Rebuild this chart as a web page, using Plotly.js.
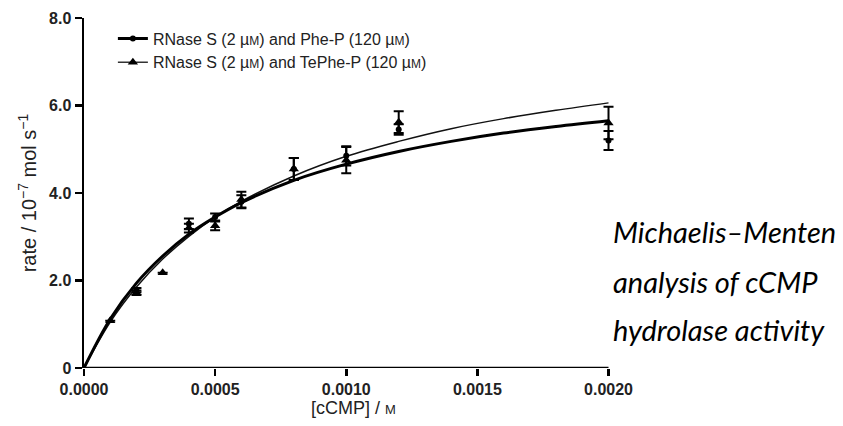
<!DOCTYPE html>
<html>
<head>
<meta charset="utf-8">
<script src="https://cdn.plot.ly/plotly-3.0.1.min.js"></script>
<style>html,body{margin:0;padding:0;background:#fff;}#chart{width:843px;height:426px;}</style>
</head>
<body>
<div id="chart"></div>
<script>
const phePX   = [0.0002, 0.0004, 0.0005, 0.0006, 0.0008, 0.0010, 0.0012, 0.0020];
const phePY   = [1.78, 3.30, 3.45, 3.80, 4.55, 4.85, 5.45, 5.20];
const phePErr = [0.05, 0.12, 0.08, 0.15, 0.25, 0.22, 0.12, 0.22];

const tePX   = [0.0001, 0.0002, 0.0003, 0.0004, 0.0005, 0.0006, 0.0008, 0.0010, 0.0012, 0.0020];
const tePY   = [1.08, 1.72, 2.18, 3.20, 3.25, 3.85, 4.55, 4.75, 5.62, 5.60];
const tePErr = [0, 0.05, 0, 0.10, 0.10, 0.18, 0.25, 0.30, 0.25, 0.37];

// Fitted Michaelis–Menten curves
const fitX    = [0, 0.0001, 0.0002, 0.0003, 0.0004, 0.0005, 0.0006, 0.0008, 0.0010, 0.0012, 0.0014, 0.0016, 0.0018, 0.0020];
const pheFitY = [0, 1.12, 1.94, 2.56, 3.06, 3.45, 3.78, 4.29, 4.66, 4.95, 5.18, 5.37, 5.52, 5.65];
const teFitY  = [0, 1.05, 1.85, 2.49, 3.01, 3.45, 3.81, 4.39, 4.84, 5.18, 5.47, 5.70, 5.89, 6.06];

const xTicks = [0, 0.0005, 0.0010, 0.0015, 0.0020];
const xTickText = ["0.0000", "0.0005", "0.0010", "0.0015", "0.0020"];
const yTicks = [0, 2, 4, 6, 8];
const yTickText = ["0", "2.0", "4.0", "6.0", "8.0"];
const xMax = 0.0020;

const legendNames = ["RNase S (2 µ<span style='font-size:12px'>M</span>) and Phe-P (120 µ<span style='font-size:12px'>M</span>)",
                     "RNase S (2 µ<span style='font-size:12px'>M</span>) and TePhe-P (120 µ<span style='font-size:12px'>M</span>)"];

const noteLines = ["Michaelis–Menten", "analysis of cCMP", "hydrolase activity"];
const xTitle = "[cCMP] / <span style='font-size:13px'>M</span>";

const traces = [
  {x: fitX, y: teFitY, mode: 'lines', line: {color: '#111', width: 1.5, shape: 'spline'}, showlegend: false, hoverinfo: 'skip'},
  {x: fitX, y: pheFitY, mode: 'lines', line: {color: '#000', width: 3, shape: 'spline'}, showlegend: false, hoverinfo: 'skip'},
  {x: tePX, y: tePY, mode: 'markers', cliponaxis: false, marker: {symbol: 'triangle-up', size: 9, color: '#000'},
   error_y: {type: 'data', array: tePErr, visible: true, color: '#000', thickness: 2, width: 5}, showlegend: false},
  {x: phePX, y: phePY, mode: 'markers', cliponaxis: false, marker: {symbol: 'circle', size: 6, color: '#000'},
   error_y: {type: 'data', array: phePErr, visible: true, color: '#000', thickness: 2, width: 5}, showlegend: false},
  {x: [null], y: [null], mode: 'lines+markers', name: legendNames[0],
   line: {color: '#000', width: 3}, marker: {symbol: 'circle', size: 6, color: '#000'}},
  {x: [null], y: [null], mode: 'lines+markers', name: legendNames[1],
   line: {color: '#333', width: 1.5}, marker: {symbol: 'triangle-up', size: 9, color: '#000'}}
];

const FONT = 'Liberation Sans, Arial, sans-serif';
const axisFont = {family: FONT, size: 16, color: '#222', weight: 'bold'};

const noteY = [0.39, 0.248, 0.11];
const annotations = noteLines.map((t, i) => ({
  xref: 'paper', yref: 'paper', x: 0.985, y: noteY[i], xanchor: 'left', yanchor: 'middle', align: 'left',
  showarrow: false, text: '<i>' + t + '</i>',
  font: {family: 'Lato, sans-serif', size: 29, color: '#000'}
}));
annotations.push({
  xref: 'paper', yref: 'paper', x: 0.503, y: -0.113, xanchor: 'center', yanchor: 'middle',
  showarrow: false, text: xTitle, font: {family: FONT, size: 18, color: '#222'}
});

const layout = {
  width: 843, height: 426,
  margin: {l: 84, r: 224, t: 18, b: 58},
  paper_bgcolor: '#fff', plot_bgcolor: '#fff',
  showlegend: true,
  legend: {x: 0.054, y: 0.99, xanchor: 'left', yanchor: 'top', bgcolor: 'rgba(0,0,0,0)',
           font: {family: FONT, size: 16, color: '#222'},
           tracegroupgap: 0, itemwidth: 30},
  xaxis: {
    range: [0, 0.00204], tickvals: xTicks, ticktext: xTickText,
    showgrid: false, zeroline: false, showline: false,
    ticks: 'outside', ticklen: 7, tickwidth: 2.5, tickcolor: '#000',
    tickfont: axisFont
  },
  yaxis: {
    range: [0, 8], tickvals: yTicks, ticktext: yTickText,
    showgrid: false, zeroline: false, showline: true, linecolor: '#000', linewidth: 2.5,
    ticks: 'outside', ticklen: 7, tickwidth: 2.5, tickcolor: '#000',
    tickfont: axisFont,
    title: {text: "rate / 10<sup>−7</sup> mol s<sup>−1</sup>", font: {family: FONT, size: 20, color: '#222'}, standoff: 7}
  },
  shapes: [{type: 'line', xref: 'x', yref: 'y', x0: 0, x1: xMax, y0: 0, y1: 0,
            line: {color: '#000', width: 2.5}, layer: 'above'}],
  annotations: annotations
};

Plotly.newPlot('chart', traces, layout, {displayModeBar: false, staticPlot: true});
</script>
</body>
</html>
